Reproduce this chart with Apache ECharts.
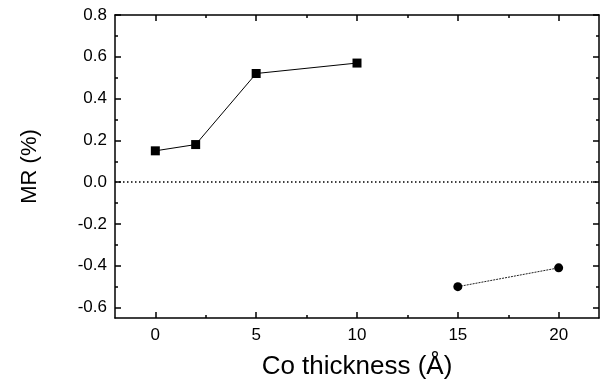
<!DOCTYPE html>
<html>
<head>
<meta charset="utf-8">
<script src="https://cdn.jsdelivr.net/npm/echarts@6/dist/echarts.min.js"></script>
<style>
  html, body { margin: 0; padding: 0; background: #fff; }
  #chart { width: 601px; height: 385px; }
</style>
</head>
<body>
<div id="chart"></div>
<script>
// data
const squareX = [0, 2, 5, 10];
const squareY = [0.15, 0.18, 0.52, 0.57];
const circleX = [15, 20];
const circleY = [-0.50, -0.41];

const xMajor = [0, 5, 10, 15, 20];
const xMinor = [-2.5, 2.5, 7.5, 12.5, 17.5];
const yMajor = [-0.6, -0.4, -0.2, 0.0, 0.2, 0.4, 0.6, 0.8];
const yMinor = [-0.5, -0.3, -0.1, 0.1, 0.3, 0.5, 0.7];

const font = "Liberation Sans, Arial, sans-serif";
const ink = "#000";

const chart = echarts.init(document.getElementById("chart"));

// helper: axis that only draws ticks (frame sides / minor ticks)
const tickAxis = (pos, vals, len, min, max, showLine) => ({
    type: "value",
    position: pos,
    min: min,
    max: max,
    axisLine: { show: !!showLine, onZero: false, lineStyle: { color: ink, width: 1.5 } },
    splitLine: { show: false },
    axisLabel: { show: false },
    axisTick: { show: true, inside: true, length: len, customValues: vals, lineStyle: { color: ink, width: 1.5 } },
});

const option = {
    animation: false,
    backgroundColor: "#fff",
    grid: { left: 115, right: 2, top: 15, bottom: 66 },
    xAxis: [
        {
            type: "value",
            position: "bottom",
            min: -2,
            max: 22,
            name: "Co thickness (Å)",
            nameLocation: "middle",
            nameGap: 36,
            nameTextStyle: { fontFamily: font, fontSize: 26, color: ink },
            axisLine: { show: true, onZero: false, lineStyle: { color: ink, width: 1.5 } },
            splitLine: { show: false },
            axisTick: { show: true, inside: true, length: 6, customValues: xMajor, lineStyle: { color: ink, width: 1.5 } },
            axisLabel: { customValues: xMajor, margin: 9, fontFamily: font, fontSize: 17, color: ink },
        },
        tickAxis("top", xMajor, 6, -2, 22, true),
        tickAxis("bottom", xMinor, 3, -2, 22),
        tickAxis("top", xMinor, 3, -2, 22),
    ],
    yAxis: [
        {
            type: "value",
            position: "left",
            min: -0.65,
            max: 0.8,
            name: "MR (%)",
            nameLocation: "middle",
            nameGap: 74,
            nameTextStyle: { fontFamily: font, fontSize: 22, color: ink },
            axisLine: { show: true, onZero: false, lineStyle: { color: ink, width: 1.5 } },
            splitLine: { show: false },
            axisTick: { show: true, inside: true, length: 6, customValues: yMajor, lineStyle: { color: ink, width: 1.5 } },
            axisLabel: {
                customValues: yMajor,
                margin: 8,
                fontFamily: font,
                fontSize: 17,
                color: ink,
                formatter: (v) => v.toFixed(1),
            },
        },
        tickAxis("right", yMajor, 6, -0.65, 0.8, true),
        tickAxis("left", yMinor, 3, -0.65, 0.8),
        tickAxis("right", yMinor, 3, -0.65, 0.8),
    ],
    series: [
        {
            type: "line",
            data: squareX.map((x, i) => [x, squareY[i]]),
            symbol: "rect",
            symbolSize: 9,
            itemStyle: { color: ink },
            lineStyle: { color: ink, width: 1 },
            markLine: {
                silent: true,
                symbol: "none",
                label: { show: false },
                lineStyle: { color: ink, width: 1.5, type: [1.5, 2.5] },
                data: [{ yAxis: 0 }],
            },
        },
        {
            type: "line",
            data: circleX.map((x, i) => [x, circleY[i]]),
            symbol: "circle",
            symbolSize: 9,
            itemStyle: { color: ink },
            lineStyle: { color: "#222", width: 1, type: [2, 1] },
        },
    ],
};

chart.setOption(option);
</script>
</body>
</html>
